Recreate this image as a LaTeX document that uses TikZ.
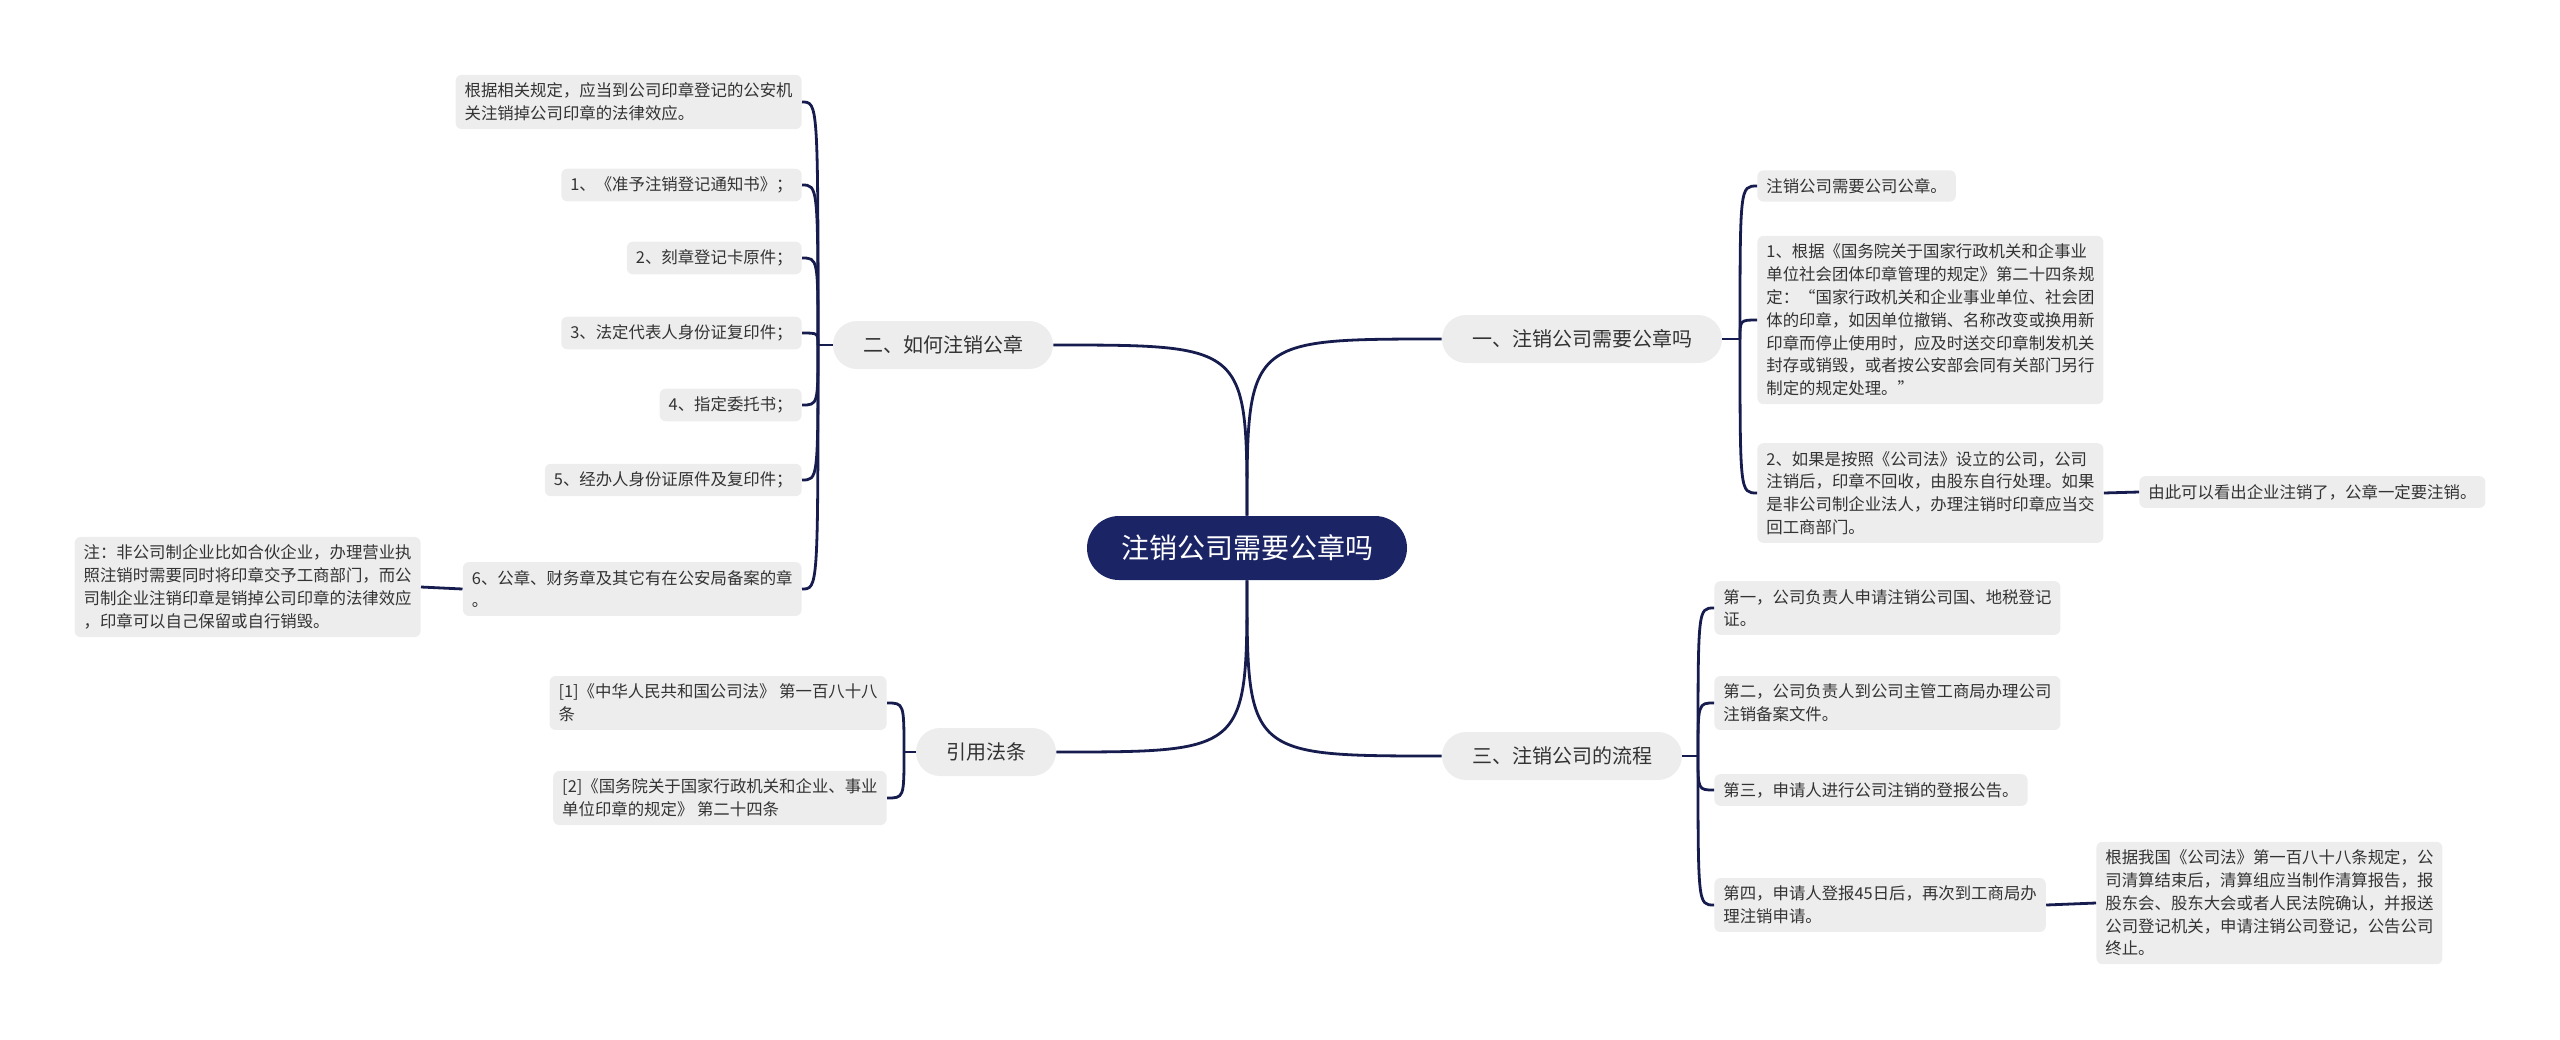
\documentclass[tikz,border=0pt]{standalone}
\usepackage{fontspec}
\setmainfont{Noto Sans CJK SC}
\usetikzlibrary{calc}
\definecolor{rootblue}{HTML}{1B2465}
\definecolor{linknavy}{HTML}{161C4E}
\definecolor{boxgray}{HTML}{EDEDED}
\definecolor{inkgray}{HTML}{333333}

\begin{document}
\begin{tikzpicture}[x=0.5pt,y=-0.5pt,
	root/.style={fill=rootblue, text=white, rounded corners=16pt, minimum height=32pt, inner xsep=17pt, font=\fontsize{14}{16}\selectfont},
	topic/.style={fill=boxgray, text=inkgray, rounded corners=12pt, minimum height=24pt, inner xsep=15pt, font=\fontsize{10}{12}\selectfont},
	leaf/.style={fill=boxgray, text=inkgray, rounded corners=3pt, inner xsep=4.5pt, inner ysep=4pt, align=left, font=\fontsize{8.2}{11.4}\selectfont},
	link/.style={draw=linknavy, line width=1.4pt}]
			\useasboundingbox (0,0) rectangle (2560,1039);
			
			% centre and main topics
			\node[root] (root) at (1247,548) {注销公司需要公章吗};
			\node[topic] (need) at (1582,339) {一、注销公司需要公章吗};
			\node[topic] (how) at (943,345) {二、如何注销公章};
			\node[topic] (flow) at (1562,756) {三、注销公司的流程};
			\node[topic] (law) at (986,752) {引用法条};
			
			\draw[link] (root.north) .. controls (root.north |- need.west) .. (need.west);
			\draw[link] (root.north) .. controls (root.north |- how.east) .. (how.east);
			\draw[link] (root.south) .. controls (root.south |- flow.west) .. (flow.west);
			\draw[link] (root.south) .. controls (root.south |- law.east) .. (law.east);
			
			% 二、如何注销公章
			\node[leaf, anchor=east] (h0) at (802,102) {根据相关规定，应当到公司印章登记的公安机\\关注销掉公司印章的法律效应。};
			\node[leaf, anchor=east] (h1) at (802,185) {1、《准予注销登记通知书》；};
			\node[leaf, anchor=east] (h2) at (802,258) {2、刻章登记卡原件；};
			\node[leaf, anchor=east] (h3) at (802,333) {3、法定代表人身份证复印件；};
			\node[leaf, anchor=east] (h4) at (802,405) {4、指定委托书；};
			\node[leaf, anchor=east] (h5) at (802,480) {5、经办人身份证原件及复印件；};
			\node[leaf, anchor=east] (h6) at (802,589) {6、公章、财务章及其它有在公安局备案的章\\。};
			\node[leaf, anchor=east] (hnote) at (421,587) {注：非公司制企业比如合伙企业，办理营业执\\照注销时需要同时将印章交予工商部门，而公\\司制企业注销印章是销掉公司印章的法律效应\\，印章可以自己保留或自行销毁。};
			
			\coordinate (hs) at (818,345);
			\draw[link] (how.west) -- (hs);
			\foreach \n in {h0,h1,h2,h3,h4,h5,h6}
				\draw[link] (hs) .. controls (hs |- \n.east) .. (\n.east);
			\draw[link] (h6.west) -- (hnote.east);
			
			% 引用法条
			\node[leaf, anchor=east] (c0) at (887,703) {[1]《中华人民共和国公司法》 第一百八十八\\条};
			\node[leaf, anchor=east] (c1) at (887,798) {[2]《国务院关于国家行政机关和企业、事业\\单位印章的规定》 第二十四条};
			
			\coordinate (cs) at (904,752);
			\draw[link] (law.west) -- (cs);
			\foreach \n in {c0,c1}
				\draw[link] (cs) .. controls (cs |- \n.east) .. (\n.east);
			
			% 一、注销公司需要公章吗
			\node[leaf, anchor=west] (n0) at (1757,186) {注销公司需要公司公章。};
			\node[leaf, anchor=west] (n1) at (1757,320) {1、根据《国务院关于国家行政机关和企事业\\单位社会团体印章管理的规定》第二十四条规\\定：“国家行政机关和企业事业单位、社会团\\体的印章，如因单位撤销、名称改变或换用新\\印章而停止使用时，应及时送交印章制发机关\\封存或销毁，或者按公安部会同有关部门另行\\制定的规定处理。”};
			\node[leaf, anchor=west] (n2) at (1757,493) {2、如果是按照《公司法》设立的公司，公司\\注销后，印章不回收，由股东自行处理。如果\\是非公司制企业法人，办理注销时印章应当交\\回工商部门。};
			\node[leaf, anchor=west] (n2a) at (2139,492) {由此可以看出企业注销了，公章一定要注销。};
			
			\coordinate (ns) at (1740,339);
			\draw[link] (need.east) -- (ns);
			\foreach \n in {n0,n1,n2}
				\draw[link] (ns) .. controls (ns |- \n.west) .. (\n.west);
			\draw[link] (n2.east) -- (n2a.west);
			
			% 三、注销公司的流程
			\node[leaf, anchor=west] (f0) at (1714,608) {第一，公司负责人申请注销公司国、地税登记\\证。};
			\node[leaf, anchor=west] (f1) at (1714,703) {第二，公司负责人到公司主管工商局办理公司\\注销备案文件。};
			\node[leaf, anchor=west] (f2) at (1714,790) {第三，申请人进行公司注销的登报公告。};
			\node[leaf, anchor=west] (f3) at (1714,905) {第四，申请人登报45日后，再次到工商局办\\理注销申请。};
			\node[leaf, anchor=west] (f3a) at (2096,903) {根据我国《公司法》第一百八十八条规定，公\\司清算结束后，清算组应当制作清算报告，报\\股东会、股东大会或者人民法院确认，并报送\\公司登记机关，申请注销公司登记，公告公司\\终止。};
			
			\coordinate (fs) at (1698,756);
			\draw[link] (flow.east) -- (fs);
			\foreach \n in {f0,f1,f2,f3}
				\draw[link] (fs) .. controls (fs |- \n.west) .. (\n.west);
			\draw[link] (f3.east) -- (f3a.west);
			
		\end{tikzpicture}
\end{document}
